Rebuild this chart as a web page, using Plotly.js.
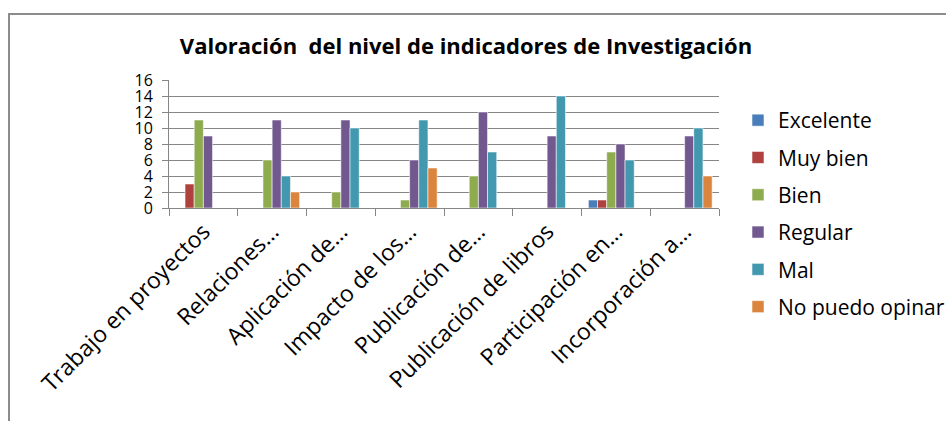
<!DOCTYPE html>
<html>
<head>
<meta charset="utf-8">
<script src="https://cdn.plot.ly/plotly-3.0.1.min.js"></script>
<style>body{margin:0;background:#fff}#chart{width:946px;height:421px}</style>
</head>
<body>
<div id="chart"></div>
<script>
const categories = ["Trabajo en proyectos","Relaciones…","Aplicación de…","Impacto de los…","Publicación de…","Publicación de libros","Participación en…","Incorporación a…"];
const seriesNames = ["Excelente","Muy bien","Bien","Regular","Mal","No puedo opinar"];
const excelente = [0,0,0,0,0,0,1,0];
const muyBien   = [3,0,0,0,0,0,1,0];
const bien      = [11,6,2,1,4,0,7,0];
const regular   = [9,11,11,6,12,9,8,9];
const mal       = [0,4,10,11,7,14,6,10];
const noOpina   = [0,2,0,5,0,0,0,4];
const yTicks = [0,2,4,6,8,10,12,14,16];
const colors = ["#4A7EBB","#B0413E","#8EAB4E","#71588F","#4198AF","#DB843D"];

const values = [excelente,muyBien,bien,regular,mal,noOpina];
const font = "'Open Sans', 'DejaVu Sans', sans-serif";
const traces = values.map((v,i)=>({
  type:'bar', x:categories, y:v, name:seriesNames[i], legendgroup:'g'+i,
  marker:{color:colors[i], line:{color:'rgba(255,255,255,0.55)', width:1}},
  hoverinfo:'y'
}));

const L=169, R=719, T=80, B=208;
const px = p => (p-L)/(R-L);
const py = p => (B-p)/(B-T);

const layout = {
  width:946, height:421,
  margin:{l:L, r:946-R, t:T, b:421-B, pad:0, autoexpand:false},
  paper_bgcolor:'#fff', plot_bgcolor:'#fff',
  font:{family:font, color:'#000'},
  title:{text:'<b>Valoración  del nivel de indicadores de Investigación</b>', font:{size:22, family:font}, x:466/946, xanchor:'center', y:1-46/421, yanchor:'middle'},
  barmode:'group', bargap:0.2, bargroupgap:0,
  showlegend:true,
  legend:{x:px(738), xanchor:'left', y:py(100), yanchor:'top', maxheight:380, font:{size:21, family:font}, tracegroupgap:7, bgcolor:'rgba(0,0,0,0)'},
  xaxis:{type:'category', tickangle:-45, tickfont:{size:23, family:font}, showline:true, linecolor:'#868686', linewidth:1,
         ticks:'outside', tickson:'boundaries', ticklen:7, tickcolor:'#868686', showgrid:false, fixedrange:true},
  yaxis:{range:[0,16], tickvals:yTicks, ticktext:yTicks.map(String), tickfont:{size:16, family:font}, showline:true, linecolor:'#868686', linewidth:1,
         ticks:'outside', ticklen:6, tickcolor:'#868686', ticklabelstandoff:6, showgrid:true, gridcolor:'#868686', gridwidth:1, zeroline:false, fixedrange:true},
  shapes:[
    {type:'line', xref:'paper', yref:'paper', x0:0, x1:1, y0:1, y1:1, line:{color:'#fff', width:2}, layer:'above'},
    {type:'rect', xref:'paper', yref:'paper', x0:px(9), x1:px(950), y0:py(14), y1:py(430), line:{color:'#8c8c8c', width:2}, fillcolor:'rgba(0,0,0,0)', layer:'below'}
  ]
};
Plotly.newPlot('chart', traces, layout, {displayModeBar:false, staticPlot:true});
</script>
</body>
</html>
